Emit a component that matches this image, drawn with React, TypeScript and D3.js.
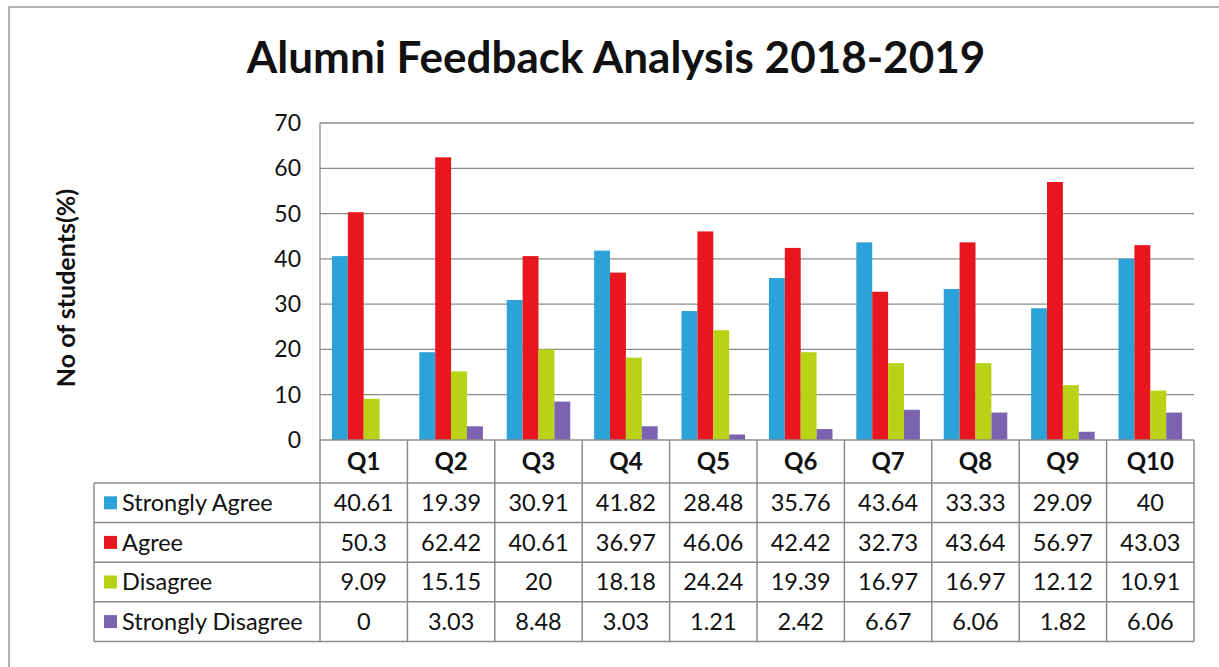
import * as d3 from 'd3';

const questions = ['Q1', 'Q2', 'Q3', 'Q4', 'Q5', 'Q6', 'Q7', 'Q8', 'Q9', 'Q10'];
const seriesNames = ['Strongly Agree', 'Agree', 'Disagree', 'Strongly Disagree'];
const stronglyAgree = [40.61, 19.39, 30.91, 41.82, 28.48, 35.76, 43.64, 33.33, 29.09, 40];
const agree = [50.3, 62.42, 40.61, 36.97, 46.06, 42.42, 32.73, 43.64, 56.97, 43.03];
const disagree = [9.09, 15.15, 20, 18.18, 24.24, 19.39, 16.97, 16.97, 12.12, 10.91];
const stronglyDisagree = [0, 3.03, 8.48, 3.03, 1.21, 2.42, 6.67, 6.06, 1.82, 6.06];
const yTicks = [0, 10, 20, 30, 40, 50, 60, 70];

const seriesValues = [stronglyAgree, agree, disagree, stronglyDisagree];
const colors = ['#2ba2d8', '#e8161e', '#b8d215', '#7b63b2'];

const W = 1219;
const H = 667;
const plot = { left: 320, right: 1194, top: 123, bottom: 440 };
const tableLeft = 94;
const rowH = 39.6;
const headerH = 43;
const font = 'Lato, Carlito, Calibri, sans-serif';
const grid = '#8c8c8c';

const App = () => {
  // x: band for each question
  const x = d3.scaleBand<string>().domain(questions).range([plot.left, plot.right]);
  const groupPad = x.bandwidth() * (0.75 / 5.5);
  const x1 = d3
    .scaleBand<number>()
    .domain(d3.range(seriesNames.length))
    .range([groupPad, x.bandwidth() - groupPad]);
  const y = d3.scaleLinear().domain([0, 70]).range([plot.bottom, plot.top]);

  const tableBottom = plot.bottom + headerH + rowH * seriesNames.length;
  const rowY = (i: number) => plot.bottom + headerH + rowH * i;

  return (
    <svg width={W} height={H} style={{ position: 'absolute', left: 0, top: 0 }}>
      <rect x={0} y={0} width={W} height={H} fill="#fff" />
      <rect x={9} y={7} width={W + 20} height={H + 20} fill="none" stroke="#9a9a9a" strokeWidth={1.5} />

      <text x={616} y={73} textAnchor="middle" fontFamily={font} fontWeight="bold" fontSize={44} fill="#111">
        Alumni Feedback Analysis 2018-2019
      </text>

      {/* grid lines */}
      {yTicks.map((t) => (
        <g key={t}>
          {t > 0 && <line x1={plot.left} x2={plot.right} y1={y(t)} y2={y(t)} stroke={grid} strokeWidth={1.3} />}
          <text x={301} y={y(t)} dy="0.35em" textAnchor="end" fontFamily={font} fontSize={23} fill="#111">
            {t}
          </text>
        </g>
      ))}

      <text
        transform={`translate(75, 288) rotate(-90)`}
        textAnchor="middle"
        fontFamily={font}
        fontWeight="bold"
        fontSize={25}
        fill="#111"
      >
        No of students(%)
      </text>

      {/* bars */}
      {seriesValues.map((vals, si) =>
        vals.map((v, qi) => (
          <rect
            key={`${si}-${qi}`}
            x={(x(questions[qi]) as number) + (x1(si) as number)}
            y={y(v)}
            width={x1.bandwidth()}
            height={plot.bottom - y(v)}
            fill={colors[si]}
          />
        )),
      )}

      <line x1={plot.left} x2={plot.left} y1={plot.top} y2={plot.bottom} stroke={grid} strokeWidth={1.3} />

      {/* data table */}
      <line x1={plot.left} x2={plot.right} y1={plot.bottom} y2={plot.bottom} stroke={grid} strokeWidth={1.5} />
      {seriesNames.map((_, i) => (
        <line key={i} x1={tableLeft} x2={plot.right} y1={rowY(i)} y2={rowY(i)} stroke={grid} strokeWidth={1.5} />
      ))}
      <line x1={tableLeft} x2={plot.right} y1={tableBottom} y2={tableBottom} stroke={grid} strokeWidth={1.5} />
      <line x1={tableLeft} x2={tableLeft} y1={rowY(0)} y2={tableBottom} stroke={grid} strokeWidth={1.5} />
      {questions.map((q) => (
        <line
          key={q}
          x1={x(q)}
          x2={x(q)}
          y1={plot.bottom}
          y2={tableBottom}
          stroke={grid}
          strokeWidth={1.5}
        />
      ))}
      <line x1={plot.right} x2={plot.right} y1={plot.bottom} y2={tableBottom} stroke={grid} strokeWidth={1.5} />

      {questions.map((q) => (
        <text
          key={q}
          x={(x(q) as number) + x.bandwidth() / 2}
          y={plot.bottom + headerH / 2}
          dy="0.36em"
          textAnchor="middle"
          fontFamily={font}
          fontWeight="bold"
          fontSize={24}
          fill="#111"
        >
          {q}
        </text>
      ))}

      {seriesNames.map((name, si) => (
        <g key={name}>
          <rect x={104} y={rowY(si) + rowH / 2 - 6.5} width={13} height={13} fill={colors[si]} />
          <text x={122} y={rowY(si) + rowH / 2} dy="0.36em" fontFamily={font} fontSize={23.5} fill="#111">
            {name}
          </text>
          {seriesValues[si].map((v, qi) => (
            <text
              key={qi}
              x={(x(questions[qi]) as number) + x.bandwidth() / 2}
              y={rowY(si) + rowH / 2}
              dy="0.36em"
              textAnchor="middle"
              fontFamily={font}
              fontSize={23.5}
              fill="#111"
            >
              {String(v)}
            </text>
          ))}
        </g>
      ))}
    </svg>
  );
};

export default App;
